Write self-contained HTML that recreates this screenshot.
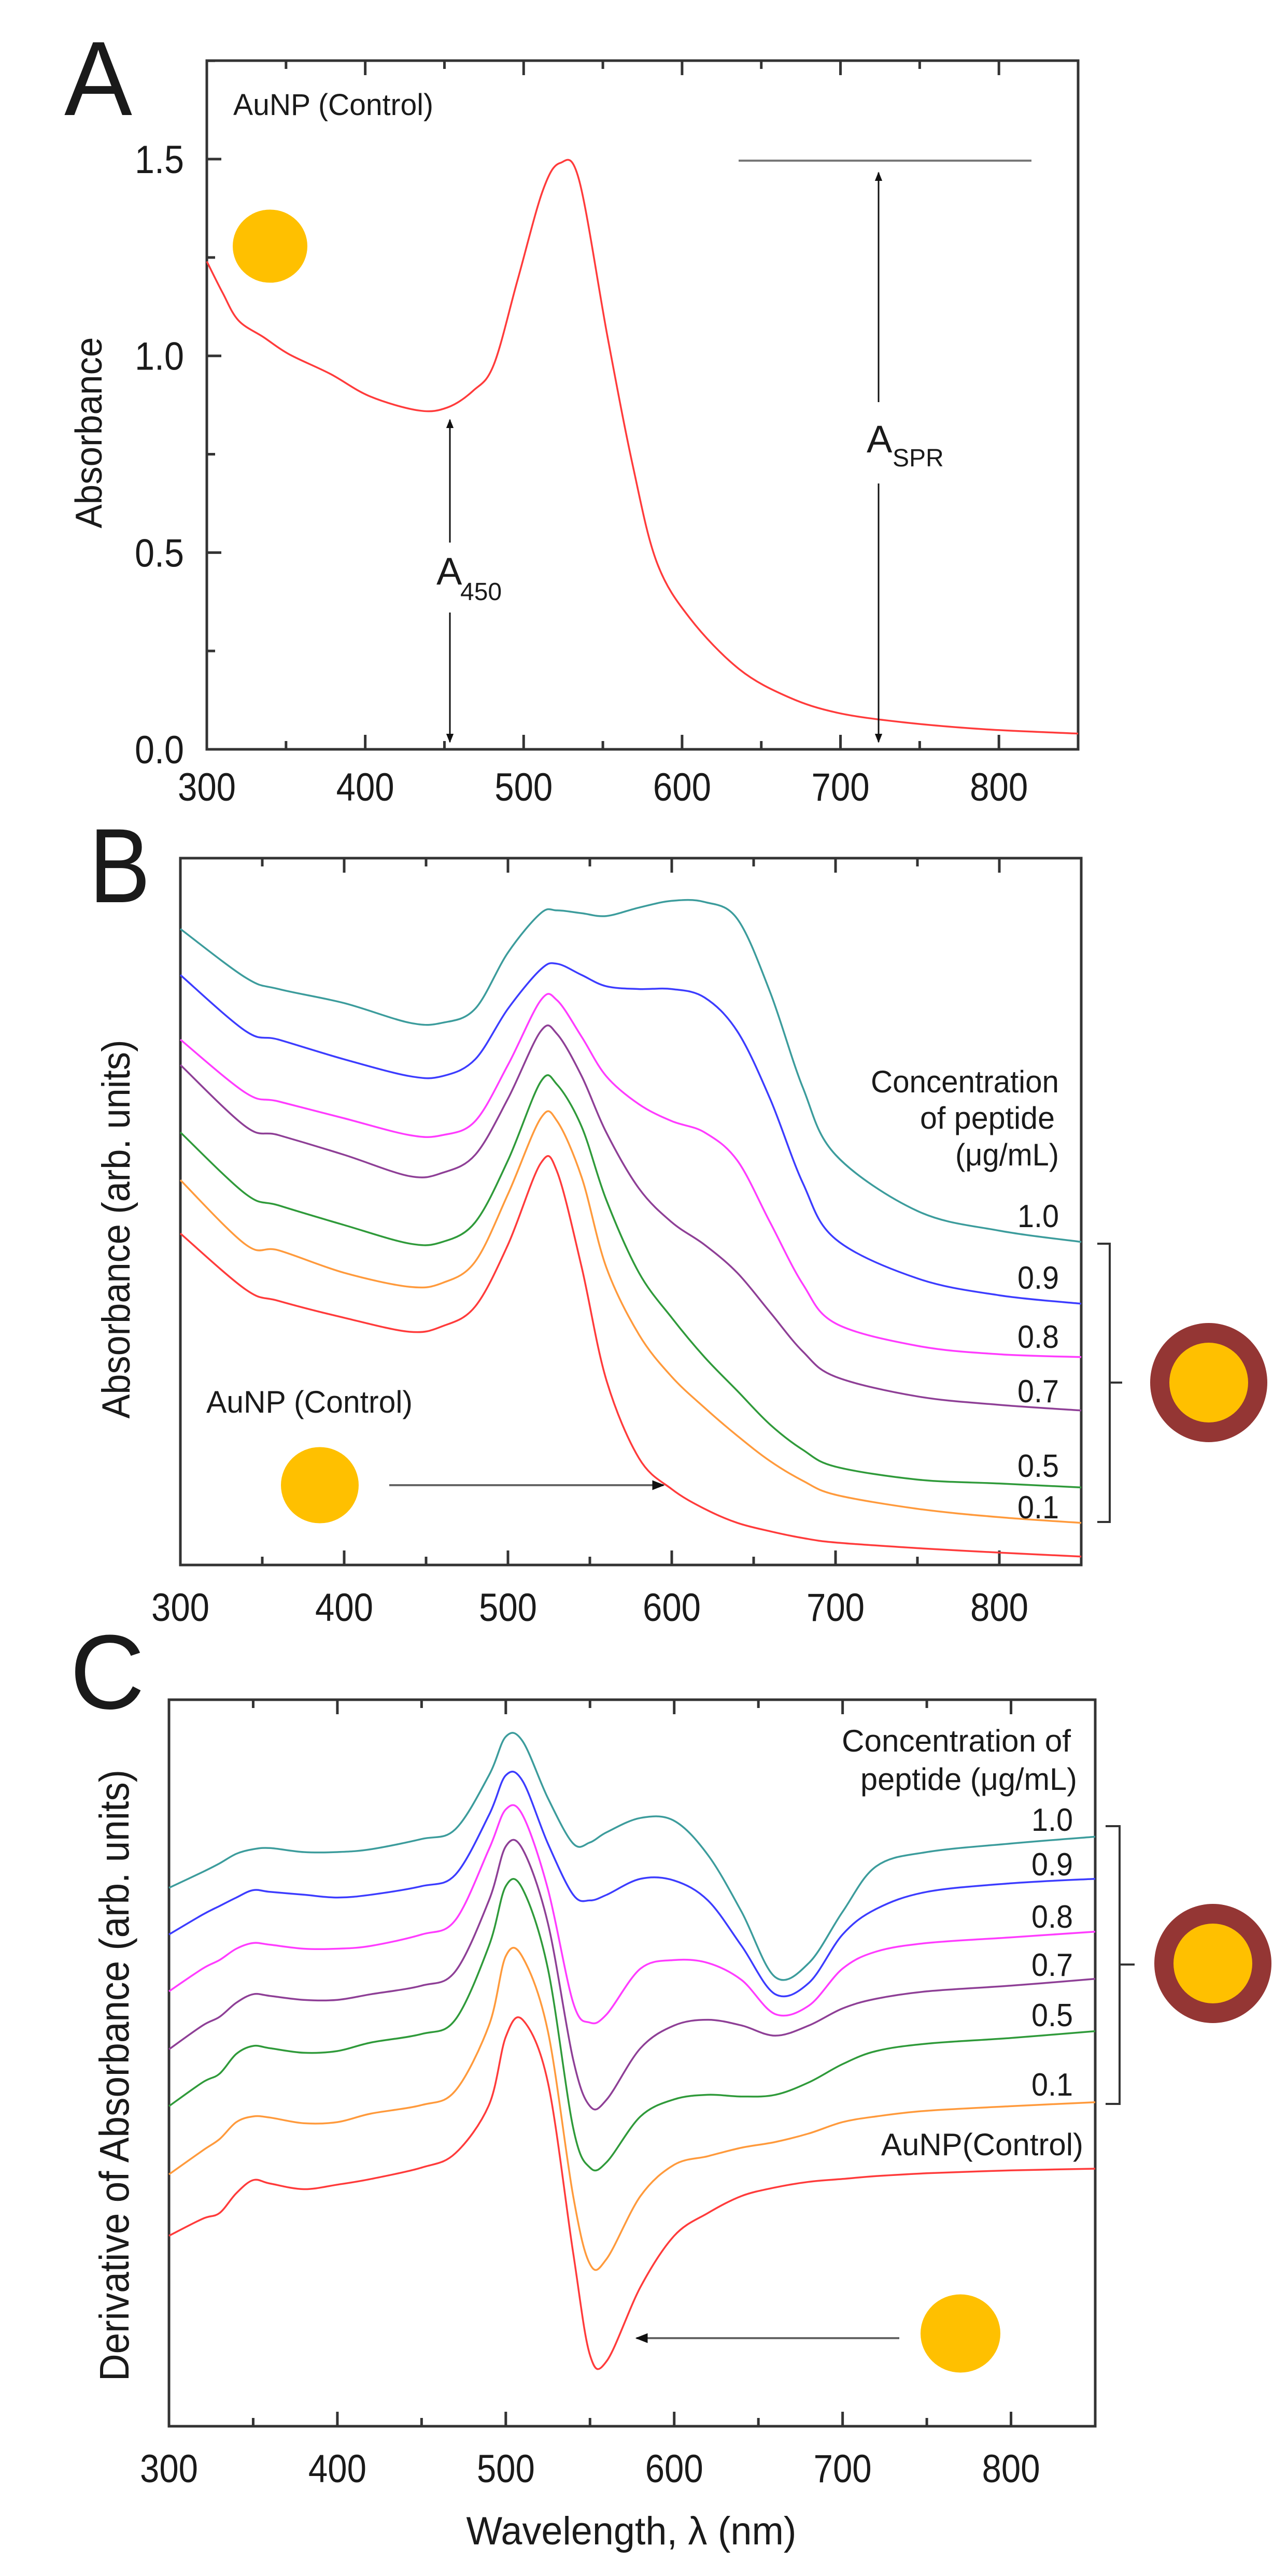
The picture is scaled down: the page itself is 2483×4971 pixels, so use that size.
<!DOCTYPE html>
<html><head><meta charset="utf-8">
<style>
html,body{margin:0;padding:0;background:#fff;}
svg{display:block;}
text{font-family:"Liberation Sans",Arial,sans-serif;fill:#1a1a1a;}
</style></head>
<body>
<svg id="fig" width="2483" height="4971" viewBox="0 0 2483 4971" xmlns="http://www.w3.org/2000/svg">
<defs>
<marker id="ah" viewBox="0 0 10 10" refX="9" refY="5" markerWidth="6" markerHeight="6" orient="auto-start-reverse"><path d="M0,1 L10,5 L0,9 z" fill="#111"/></marker>
</defs>
<g id="gA"></g>
<g id="gB"></g>
<g id="gC"></g>
</svg>
<script>
// ---------- DATA ----------
const lambdaA = [300,310,320,336,352,378,403,434,452,468,481,496,512,523,535,553,569,584,605,636,667,698,739,791,850];
const absA = [1.24,1.16,1.09,1.047,1.004,0.954,0.897,0.861,0.869,0.911,0.976,1.19,1.419,1.49,1.447,1.047,0.719,0.476,0.333,0.204,0.133,0.093,0.069,0.051,0.04];
const xTicks = [300,400,500,600,700,800];
const yTicksA = [0.0,0.5,1.0,1.5];

const lambdaB = [300,340,360,400,440,460,480,500,520,530,545,560,580,600,620,640,660,680,700,750,800,850];
const bControl = [590,490,470,440,415,425,460,570,715,700,530,330,190,135,100,75,60,48,40,30,22,15];
const b01 = [685,570,560,520,495,502,540,660,795,790,690,530,410,335,280,230,185,150,125,100,85,75];
const b05 = [770,660,640,605,572,575,610,720,860,855,780,650,520,440,370,310,250,205,175,152,145,138];
const b07 = [890,780,765,730,692,698,730,830,950,945,870,770,670,610,570,520,450,380,335,300,285,275];
const b08 = [935,840,825,795,765,765,790,890,1005,1005,940,870,820,790,770,720,610,500,430,390,375,370];
const b09 = [1050,950,935,900,870,870,900,990,1060,1070,1050,1030,1025,1025,1010,950,830,680,580,510,480,465];
const b10 = [1132,1045,1025,1000,965,965,990,1090,1160,1165,1160,1155,1170,1182,1180,1150,1020,850,730,630,595,575];

const lambdaC = [300,320,330,340,350,360,380,400,420,450,470,490,500,510,525,540,550,560,580,600,620,640,660,680,700,720,750,800,850];
const cControl = [335,365,375,410,433,427,417,425,435,455,480,565,685,715,605,305,125,115,245,335,375,405,420,430,435,440,445,450,453];
const c01 = [443,485,505,535,545,543,533,535,550,565,590,705,827,825,695,405,285,295,405,460,475,490,500,515,535,545,555,563,570];
const c05 = [563,605,620,655,669,665,657,660,675,690,715,845,950,945,805,525,455,465,545,575,583,580,583,605,637,660,673,683,695];
const c07 = [663,705,720,745,760,757,750,750,760,775,800,925,1020,1015,885,645,563,575,665,705,715,705,687,705,735,752,765,775,787];
const c08 = [765,805,820,840,850,847,840,840,845,865,890,1015,1085,1075,945,745,710,725,805,820,815,785,725,740,805,835,850,860,870];
const c09 = [865,900,915,930,943,940,935,930,935,950,970,1075,1145,1135,1025,935,925,935,963,960,925,845,760,780,865,910,940,955,963];
const c10 = [947,975,990,1007,1015,1017,1010,1010,1015,1033,1050,1145,1213,1205,1105,1025,1027,1045,1070,1065,1005,905,790,815,905,985,1010,1025,1037];
const concLabels = ["1.0","0.9","0.8","0.7","0.5","0.1"];

// ---------- HELPERS ----------
const NS="http://www.w3.org/2000/svg";
function mk(parent,tag,attrs,txt){const e=document.createElementNS(NS,tag);for(const k in attrs)e.setAttribute(k,attrs[k]);if(txt!==undefined)e.textContent=txt;parent.appendChild(e);return e;}
function smooth(pts){let d="M"+pts[0][0].toFixed(1)+","+pts[0][1].toFixed(1);
 for(let i=0;i<pts.length-1;i++){const p0=pts[Math.max(0,i-1)],p1=pts[i],p2=pts[i+1],p3=pts[Math.min(pts.length-1,i+2)];
  const c1=[p1[0]+(p2[0]-p0[0])/6,p1[1]+(p2[1]-p0[1])/6],c2=[p2[0]-(p3[0]-p1[0])/6,p2[1]-(p3[1]-p1[1])/6];
  d+=" C"+c1[0].toFixed(1)+","+c1[1].toFixed(1)+" "+c2[0].toFixed(1)+","+c2[1].toFixed(1)+" "+p2[0].toFixed(1)+","+p2[1].toFixed(1);}
 return d;}
const AX="#333";

function frame(g,L,T,R,B,xs,labelY,topTicks){
 const f=mk(g,'rect',{x:L,y:T,width:R-L,height:B-T,fill:'none',stroke:AX,'stroke-width':5});
 
 
 for(let v=300;v<=850;v+=50){const x=xs(v);const maj=v%100===0;const len=maj?28:16;
  const t=mk(g,'line',{x1:x,y1:B,x2:x,y2:B-len,stroke:AX,'stroke-width':5});
  
  
  if(topTicks){const t2=mk(g,'line',{x1:x,y1:T,x2:x,y2:T+len,stroke:AX,'stroke-width':5});
   
   }
 }
 xTicks.forEach(v=>{const t=mk(g,'text',{x:xs(v),y:labelY,'font-size':76,'text-anchor':'middle',textLength:112,lengthAdjust:'spacingAndGlyphs'},String(v));
  
  });
}
function drawCurve(g,xs,ys,xsArr,vals,color,name){
 const p=mk(g,'path',{d:smooth(xsArr.map((l,i)=>[xs(l),ys(vals[i])])),fill:'none',stroke:color,'stroke-width':3.5,'stroke-linejoin':'round'});
 
 
}
function label(g,x,y,size,txt,name,anchor,len,rot){
 const a={x:x,y:y,'font-size':size,'text-anchor':anchor||'start'};
 if(len){a.textLength=len;a.lengthAdjust='spacingAndGlyphs';}
 if(rot)a.transform='rotate(-90 '+x+' '+y+')';
 const t=mk(g,'text',a,txt);
 
 
 return t;}
function np(g,cx,cy,r,name){const c=mk(g,'ellipse',{cx:cx,cy:cy,rx:r,ry:r*0.98,fill:'#FFC000'});
 
 }
function coreShell(g,cx,cy,name){const o=mk(g,'ellipse',{cx:cx,cy:cy,rx:113,ry:115,fill:'#943634'});
 
 
 const i=mk(g,'ellipse',{cx:cx,cy:cy,rx:76,ry:77,fill:'#FFC000'});
 
 }
function line(g,x1,y1,x2,y2,name,arrowEnd,arrowStart,col,w){
 const a={x1:x1,y1:y1,x2:x2,y2:y2,stroke:col||'#111','stroke-width':w||3};
 if(arrowEnd)a['marker-end']='url(#ah)'; if(arrowStart)a['marker-start']='url(#ah)';
 const l=mk(g,'line',a);
 
 }

// ---------- PANEL A ----------
(function(){
 const g=document.getElementById('gA');
 const L=399,R=2080,T=117,B=1446;
 const xs=v=>L+(v-300)*(R-L)/550;
 const ys=v=>B-v*759.3;
 frame(g,L,T,R,B,xs,1545,true);
 for(let v=0;v<=1.75;v+=0.25){const maj=Math.abs(v*2-Math.round(v*2))<1e-6;
  const t=mk(g,'line',{x1:L,y1:ys(v),x2:L+(maj?28:16),y2:ys(v),stroke:AX,'stroke-width':5});
  
  }
 yTicksA.forEach(v=>{const t=mk(g,'text',{x:355,y:ys(v)+27,'font-size':76,'text-anchor':'end',textLength:95,lengthAdjust:'spacingAndGlyphs'},v.toFixed(1));
  
  });
 drawCurve(g,xs,ys,lambdaA,absA,'#ff3b3b','absorbance-curve-control');
 label(g,124,222,204,'A','panel-label-a','start',131);
 label(g,196,835,72,'Absorbance','y-axis-title','middle',369,true);
 label(g,450,222,58,'AuNP (Control)','control-label-a','start',386);
 np(g,521,475,72,'gold-nanoparticle-icon');
 line(g,1425,310,1990,310,'spr-reference-line',false,false,'#777',4);
 line(g,1695,776,1695,333,'spr-arrow-up',true);
 line(g,1695,933,1695,1432,'spr-arrow-down',true);
 label(g,1672,873,74,'A','spr-label');
 label(g,1722,900,48,'SPR','spr-label-subscript');
 line(g,868,1047,868,810,'a450-arrow-up',true);
 line(g,868,1182,868,1432,'a450-arrow-down',true);
 label(g,842,1128,74,'A','a450-label');
 label(g,888,1158,48,'450','a450-label-subscript');
})();

// ---------- PANEL B ----------
(function(){
 const g=document.getElementById('gB');
 const L=348,R=2086,T=1656,B=3020;
 const xs=v=>L+(v-300)*(R-L)/550;
 const ys=v=>B-v*(B-T)/1258;
 frame(g,L,T,R,B,xs,3128,true);
 drawCurve(g,xs,ys,lambdaB,bControl,'#ff3b3b','curve-control');
 drawCurve(g,xs,ys,lambdaB,b01,'#ff9a3c','curve-0-1');
 drawCurve(g,xs,ys,lambdaB,b05,'#2f9a3a','curve-0-5');
 drawCurve(g,xs,ys,lambdaB,b07,'#8e3f96','curve-0-7');
 drawCurve(g,xs,ys,lambdaB,b08,'#ff3cff','curve-0-8');
 drawCurve(g,xs,ys,lambdaB,b09,'#3c3cff','curve-0-9');
 drawCurve(g,xs,ys,lambdaB,b10,'#3c9c9c','curve-1-0');
 label(g,172,1741,204,'B','panel-label-b','start',118);
 label(g,250,2372,76,'Absorbance (arb. units)','y-axis-title','middle',731,true);
 label(g,2043,2108,60,'Concentration','legend-title-line1','end',363);
 label(g,2035,2178,60,'of peptide','legend-title-line2','end',260);
 label(g,2043,2249,60,'(\u03bcg/mL)','legend-title-line3','end',200);
 const ly=[2368,2487,2601,2706,2850,2930];
 concLabels.forEach((s,i)=>label(g,2043,ly[i],62,s,'concentration-label','end',80));
 const br=mk(g,'path',{d:'M2117,2400 L2141,2400 L2141,2937 L2117,2937 M2141,2668 L2165,2668',fill:'none',stroke:'#333','stroke-width':4});
 
 
 coreShell(g,2332,2668,'coated-nanoparticle-icon');
 label(g,398,2726,60,'AuNP (Control)','control-label-b','start',398);
 np(g,617,2866,75,'gold-nanoparticle-icon');
 line(g,751,2866,1280,2866,'shift-arrow',true,false,'#666',4);
})();

// ---------- PANEL C ----------
(function(){
 const g=document.getElementById('gC');
 const L=326,R=2113,T=3280,B=4682;
 const xs=v=>L+(v-300)*(R-L)/550;
 const ys=v=>B-v*(B-T)/1278;
 frame(g,L,T,R,B,xs,4790,true);
 drawCurve(g,xs,ys,lambdaC,cControl,'#ff3b3b','deriv-curve-control');
 drawCurve(g,xs,ys,lambdaC,c01,'#ff9a3c','deriv-curve-0-1');
 drawCurve(g,xs,ys,lambdaC,c05,'#2f9a3a','deriv-curve-0-5');
 drawCurve(g,xs,ys,lambdaC,c07,'#8e3f96','deriv-curve-0-7');
 drawCurve(g,xs,ys,lambdaC,c08,'#ff3cff','deriv-curve-0-8');
 drawCurve(g,xs,ys,lambdaC,c09,'#3c3cff','deriv-curve-0-9');
 drawCurve(g,xs,ys,lambdaC,c10,'#3c9c9c','deriv-curve-1-0');
 label(g,135,3297,204,'C','panel-label-c','start',144);
 label(g,248,4005,80,'Derivative of Absorbance (arb. units)','y-axis-title','middle',1180,true);
 label(g,1218,4910,76,'Wavelength, \u03bb (nm)','x-axis-title','middle',637);
 label(g,2066,3380,60,'Concentration of','legend-title-line1','end',442);
 label(g,2078,3454,60,'peptide (\u03bcg/mL)','legend-title-line2','end',418);
 const ly=[3533,3619,3720,3813,3910,4044];
 concLabels.forEach((s,i)=>label(g,2070,ly[i],62,s,'concentration-label','end',80));
 label(g,2090,4159,60,'AuNP(Control)','control-label-c','end',390);
 const br=mk(g,'path',{d:'M2133,3524 L2160,3524 L2160,4060 L2133,4060 M2160,3791 L2189,3791',fill:'none',stroke:'#333','stroke-width':4});
 
 
 coreShell(g,2340,3789,'coated-nanoparticle-icon');
 np(g,1853,4503,77,'gold-nanoparticle-icon');
 line(g,1735,4512,1228,4512,'shift-arrow',true,false,'#666',4);
})();
</script>
</body></html>
